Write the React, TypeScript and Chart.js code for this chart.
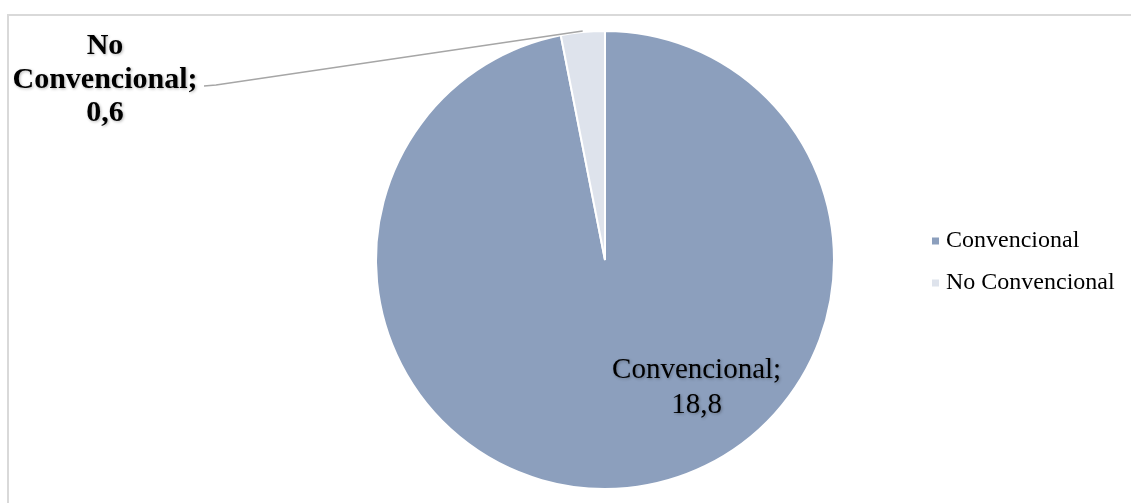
import React, { useEffect, useRef } from "react";
import { Chart, registerables } from "chart.js";

Chart.register(...registerables);

const categories = ["Convencional", "No Convencional"];
const values = [18.8, 0.6];
const valueLabels = ["18,8", "0,6"];
const colors = ["#8C9FBD", "#DEE3EC"];

const FONT = '"Liberation Serif", "Times New Roman", serif';

const labelPlugin = {
  id: "customLabels",
  afterDraw(chart: any) {
    const ctx = chart.ctx as CanvasRenderingContext2D;
    const meta = chart.getDatasetMeta(0);
    const arc0 = meta.data[0];
    const arc1 = meta.data[1];
    const cx = arc0.x;
    const cy = arc0.y;
    const r = arc0.outerRadius;

    // Label inside big slice
    ctx.save();
    ctx.font = `29px ${FONT}`;
    ctx.fillStyle = "#000";
    ctx.textAlign = "center";
    ctx.textBaseline = "middle";
    ctx.shadowColor = "rgba(0,0,0,0.3)";
    ctx.shadowBlur = 3;
    ctx.shadowOffsetX = 1;
    ctx.shadowOffsetY = 1;
    const lx = cx + r * 0.4;
    const ly = cy + r * 0.48;
    ctx.fillText(categories[0] + ";", lx, ly);
    ctx.fillText(valueLabels[0], lx, ly + 35);
    ctx.restore();

    // Leader line for small slice
    const mid = (arc1.startAngle + arc1.endAngle) / 2;
    const px = cx + Math.cos(mid) * (r + 1);
    const py = cy + Math.sin(mid) * (r + 1);
    ctx.save();
    ctx.strokeStyle = "#A6A6A6";
    ctx.lineWidth = 1.5;
    ctx.beginPath();
    ctx.moveTo(px, py);
    ctx.lineTo(216, 85);
    ctx.lineTo(204, 86);
    ctx.stroke();
    ctx.restore();

    // Bold label for small slice
    ctx.save();
    ctx.font = `bold 30px ${FONT}`;
    ctx.fillStyle = "#000";
    ctx.textAlign = "center";
    ctx.textBaseline = "middle";
    ctx.shadowColor = "rgba(0,0,0,0.3)";
    ctx.shadowBlur = 3;
    ctx.shadowOffsetX = 1;
    ctx.shadowOffsetY = 1;
    const tx = 105;
    ctx.fillText("No", tx, 46);
    ctx.fillText("Convencional;", tx, 80);
    ctx.fillText(valueLabels[1], tx, 113);
    ctx.restore();

    // Legend
    ctx.save();
    ctx.font = `24px ${FONT}`;
    ctx.textAlign = "left";
    ctx.textBaseline = "middle";
    categories.forEach((c, i) => {
      const y = 241 + i * 42;
      ctx.fillStyle = colors[i];
      ctx.fillRect(932, y - 3.5, 7, 7);
      ctx.fillStyle = "#000";
      ctx.fillText(c, 946, y);
    });
    ctx.restore();
  },
};

export default function App() {
  const ref = useRef<HTMLCanvasElement | null>(null);
  useEffect(() => {
    if (!ref.current) return;
    const chart = new Chart(ref.current, {
      type: "pie",
      data: {
        labels: categories,
        datasets: [
          {
            data: values,
            backgroundColor: colors,
            borderColor: "#FFFFFF",
            borderWidth: 2,
          },
        ],
      },
      options: {
        animation: false,
        responsive: false,
        layout: { padding: { left: 300, right: 221, top: 30, bottom: 13 } },
        plugins: {
          legend: { display: false },
          tooltip: { enabled: false },
        },
      },
      plugins: [labelPlugin],
    });
    return () => chart.destroy();
  }, []);
  return (
    <div style={{ position: "fixed", left: 0, top: 0, width: 1131, height: 503, background: "#fff" }}>
      <div
        style={{
          position: "absolute",
          left: 7,
          top: 14,
          width: 1140,
          height: 520,
          border: "2px solid #D9D9D9",
          boxSizing: "border-box",
        }}
      />
      <canvas ref={ref} width={1131} height={503} style={{ position: "absolute", left: 0, top: 0 }} />
    </div>
  );
}
